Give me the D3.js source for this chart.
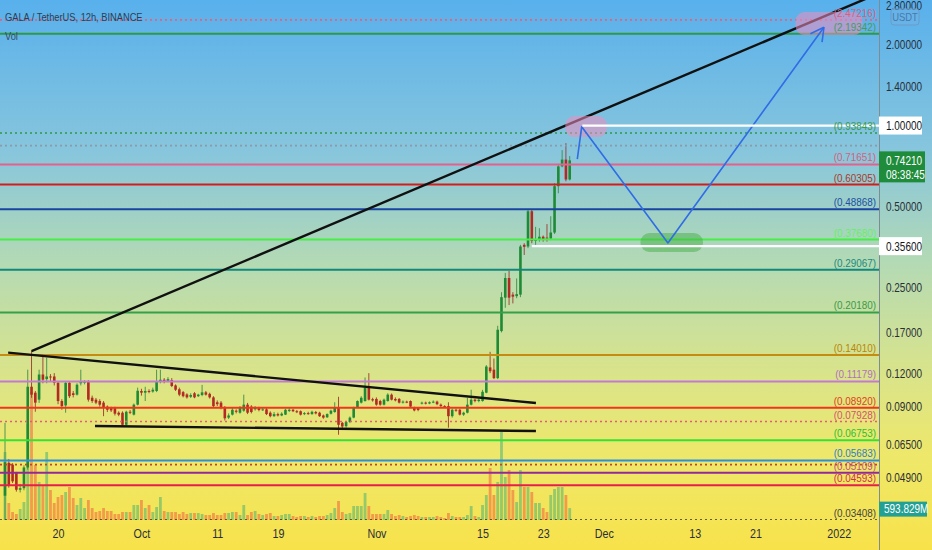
<!DOCTYPE html>
<html><head><meta charset="utf-8">
<script src="https://cdn.jsdelivr.net/npm/d3@7"></script>
<style>
html,body{margin:0;padding:0;background:#fff;}
svg{display:block;}
text{font-family:'Liberation Sans',Arial,sans-serif;}
</style></head><body>
<svg id="chart" width="932" height="550"></svg>
<script>
// ---------------- DATA ----------------
const title = "GALA / TetherUS, 12h, BINANCE";
const firstCandle = Date.UTC(2021, 8, 13);
const HALF_DAY = 12 * 3600 * 1000;

const opens = [0.0420,0.0557,0.0548,0.0510,0.0442,0.0448,0.0535,0.1068,0.1015,0.0956,
0.1186,0.1140,0.1166,0.1166,0.1105,0.0945,0.0910,0.1105,0.1010,0.0998,
0.1100,0.1105,0.1115,0.0972,0.0956,0.0945,0.0932,0.0901,0.0893,0.0890,
0.0855,0.0855,0.0771,0.0862,0.0841,0.0916,0.1030,0.1015,0.1030,0.1025,
0.1030,0.1115,0.1134,0.1120,0.1130,0.1080,0.1045,0.1020,0.1000,0.0980,
0.1010,0.0985,0.0995,0.1018,0.1005,0.0975,0.0935,0.0932,0.0893,0.0820,
0.0841,0.0870,0.0855,0.0870,0.0916,0.0901,0.0880,0.0890,0.0875,0.0880,
0.0855,0.0830,0.0845,0.0835,0.0841,0.0868,0.0877,0.0866,0.0866,0.0845,
0.0852,0.0845,0.0860,0.0855,0.0835,0.0822,0.0848,0.0860,0.0893,0.0784,
0.0762,0.0790,0.0820,0.0893,0.0932,0.0945,0.1059,0.0960,0.0962,0.0945,
0.0916,0.0945,0.0998,0.0962,0.0962,0.0932,0.0940,0.0945,0.0893,0.0890,
0.0925,0.0932,0.0925,0.0935,0.0940,0.0916,0.0905,0.0905,0.0830,0.0877,
0.0877,0.0841,0.0855,0.0916,0.0956,0.0945,0.0945,0.1015,0.1260,0.1236,
0.1150,0.1720,0.2290,0.2710,0.2350,0.2320,0.2350,0.3600,0.3550,0.4800,
0.3720,0.3760,0.3860,0.3830,0.3800,0.4000,0.5950,0.7050,0.7470,0.6300];
const highs = [0.0784,0.0575,0.0555,0.0515,0.0465,0.0545,0.1236,0.1450,0.1030,0.1236,
0.1380,0.1370,0.1190,0.1200,0.1120,0.0960,0.1120,0.1120,0.1030,0.1100,
0.1236,0.1130,0.1130,0.0990,0.0970,0.0960,0.0945,0.0910,0.0900,0.0900,
0.0865,0.0865,0.0870,0.0875,0.0925,0.1060,0.1050,0.1068,0.1045,0.1060,
0.1236,0.1236,0.1150,0.1160,0.1150,0.1090,0.1060,0.1030,0.1010,0.1010,
0.1020,0.1005,0.1085,0.1030,0.1015,0.0985,0.0950,0.0945,0.0905,0.0850,
0.0890,0.0880,0.0905,0.0998,0.0930,0.0912,0.0905,0.0900,0.0890,0.0890,
0.0865,0.0860,0.0855,0.0858,0.0885,0.0890,0.0885,0.0875,0.0872,0.0860,
0.0862,0.0870,0.0868,0.0862,0.0842,0.0850,0.0878,0.0935,0.0980,0.0790,
0.0795,0.0828,0.0900,0.0950,0.0985,0.1156,0.1200,0.0972,0.0975,0.0955,
0.0965,0.1010,0.1008,0.0975,0.0970,0.0950,0.0948,0.0950,0.0900,0.0898,
0.0940,0.0940,0.0942,0.0950,0.0948,0.0925,0.0912,0.0935,0.0885,0.0885,
0.0885,0.0862,0.0970,0.1041,0.0965,0.0965,0.1040,0.1285,0.1440,0.1360,
0.1800,0.2400,0.2830,0.2880,0.2400,0.2700,0.3600,0.3650,0.4900,0.4850,
0.4200,0.4150,0.3900,0.4300,0.4600,0.6100,0.7200,0.8100,0.8600,0.7700];
const lows = [0.0341,0.0450,0.0468,0.0435,0.0432,0.0440,0.0525,0.0972,0.0862,0.0930,
0.1100,0.1100,0.1120,0.1080,0.0920,0.0877,0.0855,0.0970,0.0975,0.0990,
0.1080,0.1090,0.0940,0.0930,0.0920,0.0900,0.0830,0.0860,0.0860,0.0835,
0.0830,0.0764,0.0760,0.0845,0.0835,0.0910,0.0990,0.0945,0.1010,0.1015,
0.1020,0.1100,0.1100,0.1110,0.1065,0.1030,0.0985,0.0975,0.0965,0.0970,
0.0968,0.0978,0.0985,0.0990,0.0965,0.0895,0.0905,0.0880,0.0800,0.0810,
0.0835,0.0850,0.0848,0.0862,0.0845,0.0850,0.0870,0.0865,0.0868,0.0838,
0.0822,0.0825,0.0828,0.0830,0.0838,0.0860,0.0860,0.0852,0.0835,0.0838,
0.0840,0.0840,0.0843,0.0825,0.0812,0.0818,0.0842,0.0855,0.0708,0.0750,
0.0752,0.0782,0.0815,0.0890,0.0925,0.0940,0.0950,0.0940,0.0908,0.0908,
0.0910,0.0940,0.0950,0.0942,0.0925,0.0925,0.0928,0.0895,0.0865,0.0866,
0.0918,0.0918,0.0920,0.0928,0.0912,0.0898,0.0895,0.0752,0.0820,0.0862,
0.0835,0.0832,0.0850,0.0910,0.0935,0.0935,0.0940,0.1010,0.1200,0.1140,
0.1140,0.1700,0.2100,0.2150,0.2180,0.2280,0.2300,0.3300,0.3500,0.3650,
0.3600,0.3700,0.3700,0.3700,0.3750,0.3950,0.5600,0.7000,0.6200,0.6250];
const closes = [0.0560,0.0458,0.0475,0.0442,0.0448,0.0535,0.1068,0.0998,0.0932,0.1186,
0.1134,0.1166,0.1160,0.1105,0.0945,0.0905,0.1105,0.0985,0.0995,0.1087,
0.1115,0.1115,0.0956,0.0945,0.0932,0.0916,0.0893,0.0877,0.0872,0.0848,
0.0841,0.0771,0.0862,0.0858,0.0916,0.1032,0.1015,0.1030,0.1025,0.1041,
0.1115,0.1134,0.1120,0.1140,0.1075,0.1041,0.0998,0.0985,0.0975,0.0995,
0.0975,0.0998,0.1018,0.0998,0.0975,0.0905,0.0920,0.0893,0.0815,0.0835,
0.0877,0.0862,0.0893,0.0916,0.0855,0.0860,0.0890,0.0875,0.0880,0.0845,
0.0830,0.0845,0.0835,0.0848,0.0877,0.0877,0.0866,0.0860,0.0841,0.0852,
0.0845,0.0862,0.0850,0.0830,0.0820,0.0845,0.0870,0.0893,0.0771,0.0760,
0.0790,0.0820,0.0893,0.0945,0.0972,0.1059,0.0956,0.0950,0.0916,0.0916,
0.0956,0.0998,0.0956,0.0950,0.0932,0.0940,0.0935,0.0901,0.0872,0.0875,
0.0932,0.0925,0.0935,0.0940,0.0920,0.0905,0.0900,0.0830,0.0877,0.0870,
0.0841,0.0855,0.0916,0.0956,0.0945,0.0956,0.1023,0.1270,0.1220,0.1150,
0.1740,0.2300,0.2710,0.2290,0.2310,0.2360,0.3550,0.3540,0.4800,0.3720,
0.3780,0.3860,0.3760,0.3800,0.4000,0.5950,0.7050,0.7470,0.6300,0.7421];
// volume, millions of GALA
const volumes = [3400,850,400,300,550,900,4800,6400,2750,1900,
1750,3400,1500,850,1150,1250,1400,1650,1100,750,
1100,600,1000,600,400,450,600,450,450,300,
300,400,400,400,750,750,1000,600,750,400,
650,1150,450,400,400,400,300,400,300,350,
350,350,300,250,250,350,250,250,350,350,
400,400,250,750,250,400,450,300,250,300,
350,200,200,250,300,300,200,150,200,200,
150,200,150,200,200,250,350,600,950,400,
300,350,700,700,700,1350,700,300,300,300,
300,500,300,200,250,200,150,200,250,200,
150,150,150,150,200,150,100,350,200,150,
150,150,250,700,200,150,750,1250,2600,1250,
1900,4400,2150,2500,1500,900,2500,1650,1650,1400,
850,850,600,400,1250,1550,1650,1650,1250,593.829];

// horizontal levels (Fibonacci-style drawings)
const levelValues = [2.47216,2.19342,0.93843,0.842,0.71651,0.60305,0.48868,0.37680,0.29067,0.20180,
  0.14010,0.11179,0.08920,0.07928,0.06753,0.05683,0.0548,0.05109,0.04593,0.03408];
const levelLabeled = [1,1,1,0,1,1,1,1,1,1, 1,1,1,1,1,1,0,1,1,1];

// right price scale
const priceDomain = [0.0340, 2.93];
const priceTicks = [2.8, 2.0, 1.4, 0.5, 0.25, 0.17, 0.12, 0.09, 0.065, 0.049];
const lastPrice = 0.7421;
const countdown = "08:38:45";
const markedPrices = [1.0, 0.356];

// time axis
const timeTickDates = [[2021,8,20],[2021,9,1],[2021,9,11],[2021,9,19],[2021,10,1],[2021,10,15],
  [2021,10,23],[2021,11,1],[2021,11,13],[2021,11,21],[2022,0,1]];
const timeTickLabels = ["20","Oct","11","19","Nov","15","23","Dec","13","21","2022"];

// drawings: [dateUTC, price]
const risingTrend = [[Date.UTC(2021,8,16,12),0.1450],[Date.UTC(2022,0,5,10),3.03]];
const fallingTrend = [[Date.UTC(2021,8,13,10),0.1430],[Date.UTC(2021,10,22,1),0.0929]];
const supportLine = [[Date.UTC(2021,8,24,21),0.0763],[Date.UTC(2021,10,22,1),0.0731]];
const projection = [[Date.UTC(2021,10,27,12),0.75],[Date.UTC(2021,10,28,2),0.99],
  [Date.UTC(2021,11,9,11),0.366],[Date.UTC(2021,11,30,1),2.32]];
const whiteLineStarts = [Date.UTC(2021,10,28,4), Date.UTC(2021,10,21,12)];
const zones = [
  {t0:Date.UTC(2021,10,25,22), t1:Date.UTC(2021,11,1,10), p0:1.085, p1:0.906, kind:"pink"},
  {t0:Date.UTC(2021,11,5,20), t1:Date.UTC(2021,11,14,2), p0:0.398, p1:0.3386, kind:"green"},
  {t0:Date.UTC(2021,11,26,7), t1:Date.UTC(2022,0,4,3), p0:2.643, p1:2.170, kind:"pink"}
];

// ---------------- STYLE ----------------
const levelColors = ['#e8607e','#2f9a45','#2e9b45','#8c9aa8','#e6608c','#d41c1c','#1a44a0','#46ee46','#11877d','#34a048',
  '#c68c12','#c479d4','#f0361e','#e65a7a','#34e234','#2b8fe0','#c2462a','#93289a','#e61e4c','#333333'];
const labelColors = ['#d8607a','#4a9a5a','#3a9a50','#888','#d86080','#a83a2a','#2050a0','#66ee66','#1a8a80','#3a9a4a',
  '#b8860b','#b070c0','#e0401e','#d85070','#2cc02c','#2a80c8','#888','#c05080','#d03050','#444'];
const levelDotted = [1,0,1,1,0,0,0,0,0,0, 0,0,0,1,0,0,1,0,0,1];
const NARROW = 0.86, AXIS_NARROW = 0.8;

const W = 932, H = 550, plotR = 879, plotB = 520;
const svg = d3.select("#chart");
const defs = svg.append("defs");
const grad = defs.append("linearGradient").attr("id","bg").attr("x1",0).attr("y1",0).attr("x2",0).attr("y2",1);
[[0,'#58b0ec'],[0.28,'#88c6dc'],[0.48,'#b4dab4'],[0.66,'#d6e38e'],[0.82,'#ede86c'],[1,'#f8e24a']]
  .forEach(([o,c]) => grad.append("stop").attr("offset",o).attr("stop-color",c));
defs.append("clipPath").attr("id","plot").append("rect").attr("x",0).attr("y",0).attr("width",plotR).attr("height",plotB);

svg.append("rect").attr("width",W).attr("height",H).attr("fill","url(#bg)");

const x = d3.scaleUtc().domain([new Date(Date.UTC(2021,8,13)), new Date(Date.UTC(2022,0,1))]).range([5, 838.8]);
const y = d3.scaleLog().domain(priceDomain).range([520.4, 0]);
const vy = d3.scaleLinear().domain([0, 6400]).range([plotB, plotB - 128]);

const candles = opens.map((o,i) => ({t:new Date(firstCandle + i*HALF_DAY), o, h:highs[i], l:lows[i], c:closes[i], v:volumes[i]}));

const plot = svg.append("g").attr("clip-path","url(#plot)");

// volume
plot.append("g").selectAll("rect").data(candles).join("rect")
  .attr("x", d => x(d.t) - 1.4).attr("width", 2.8)
  .attr("y", d => vy(d.v)).attr("height", d => plotB - vy(d.v))
  .attr("fill", d => d.c >= d.o ? "rgba(38,166,120,0.45)" : "rgba(239,83,60,0.5)");

// candles
const cg = plot.append("g");
cg.selectAll("line").data(candles).join("line")
  .attr("x1", d => x(d.t)).attr("x2", d => x(d.t))
  .attr("y1", d => y(d.h)).attr("y2", d => y(d.l))
  .attr("stroke", d => d.c >= d.o ? "#3c8c4a" : "#9a3a30").attr("stroke-width", 0.9);
cg.selectAll("rect").data(candles).join("rect")
  .attr("x", d => x(d.t) - 1.3).attr("width", 2.6)
  .attr("y", d => y(Math.max(d.o,d.c)))
  .attr("height", d => Math.max(1, Math.abs(y(d.o) - y(d.c))))
  .attr("fill", d => d.c >= d.o ? "#1f8a36" : "#b32a22");

// levels
const levels = levelValues.map((v,i) => ({v, lab:levelLabeled[i], col:levelColors[i], tcol:labelColors[i], dot:levelDotted[i]}));
plot.append("g").selectAll("line").data(levels).join("line")
  .attr("x1",0).attr("x2",plotR).attr("y1", d => y(d.v)).attr("y2", d => y(d.v))
  .attr("stroke", d => d.col).attr("stroke-width", d => d.dot ? 1.6 : 2)
  .attr("stroke-dasharray", d => d.dot ? "2,3" : null);

// trend lines
const lineGen = d3.line().x(d => x(new Date(d[0]))).y(d => y(d[1]));
[risingTrend, fallingTrend, supportLine].forEach(seg => {
  plot.append("path").attr("d", lineGen(seg)).attr("fill","none").attr("stroke","#111").attr("stroke-width",2.4);
});

// zones
plot.append("g").selectAll("rect").data(zones).join("rect")
  .attr("x", d => x(new Date(d.t0))).attr("width", d => x(new Date(d.t1)) - x(new Date(d.t0)))
  .attr("y", d => y(d.p0)).attr("height", d => y(d.p1) - y(d.p0))
  .attr("rx", 9).attr("ry", 9)
  .attr("fill", d => d.kind === "pink" ? "rgba(238,140,190,0.55)" : "rgba(70,175,70,0.5)");

// projection path + arrowhead
plot.append("path").attr("d", lineGen(projection)).attr("fill","none")
  .attr("stroke","#2f6ce6").attr("stroke-width",1.6).attr("stroke-linejoin","round");
{
  const a = projection[projection.length-2], b = projection[projection.length-1];
  const ax = x(new Date(a[0])), ay = y(a[1]), bx = x(new Date(b[0])), by = y(b[1]);
  const ang = Math.atan2(ay - by, ax - bx);
  [-0.5, 0.5].forEach(da => {
    plot.append("line").attr("x1", bx).attr("y1", by)
      .attr("x2", bx + 15*Math.cos(ang+da)).attr("y2", by + 15*Math.sin(ang+da))
      .attr("stroke","#2f6ce6").attr("stroke-width",1.6);
  });
}

// level labels
svg.append("g").selectAll("text").data(levels.filter(d => d.lab)).join("text")
  .attr("x", 876).attr("y", d => y(d.v) - 3).attr("text-anchor","end")
  .attr("font-size", 11.5).attr("fill", d => d.tcol)
  .text(d => "(" + d3.format(".5f")(d.v) + ")");

// white horizontal lines
markedPrices.forEach((p,i) => {
  plot.append("line").attr("x1", x(new Date(whiteLineStarts[i]))).attr("x2", plotR)
    .attr("y1", y(p)).attr("y2", y(p)).attr("stroke","#ffffff").attr("stroke-width",2.2);
});

// title
svg.append("text").attr("x",5).attr("y",21).attr("font-size",10.8).attr("fill","#2c3e55").text(title);
svg.append("text").attr("x",5).attr("y",40).attr("font-size",10.8).attr("fill","#34495e").text("Vol");

// separator
svg.append("line").attr("x1",plotR+0.5).attr("x2",plotR+0.5).attr("y1",0).attr("y2",H).attr("stroke","#7d8c93").attr("stroke-width",1);

// right axis
const ra = svg.append("g").attr("transform",`translate(${plotR},0)`)
  .call(d3.axisRight(y).tickValues(priceTicks).tickFormat(d3.format(".5f")).tickSize(0).tickPadding(7));
ra.select(".domain").remove();
ra.selectAll("text").attr("font-size",12.5).attr("fill","#2a2e39").attr("data-k", AXIS_NARROW)
  .style("font-family","'Liberation Sans',Arial,sans-serif");

// marked price boxes
markedPrices.forEach(p => {
  const g = svg.append("g");
  g.append("rect").attr("x",plotR).attr("y",y(p)-9).attr("width",43).attr("height",18).attr("fill","#fff");
  g.append("text").attr("x",plotR+7).attr("y",y(p)+4.5).attr("font-size",12.5).attr("data-k", AXIS_NARROW)
    .attr("fill","#131722").text(d3.format(".5f")(p));
});
{
  const g = svg.append("g"), yy = y(lastPrice);
  g.append("rect").attr("x",plotR).attr("y",yy-9).attr("width",46).attr("height",31).attr("fill","#1f8c3b");
  g.append("text").attr("x",plotR+7).attr("y",yy+5).attr("font-size",12.5).attr("data-k", AXIS_NARROW)
    .attr("fill","#fff").text(d3.format(".5f")(lastPrice));
  g.append("text").attr("x",plotR+7).attr("y",yy+19).attr("font-size",12.5).attr("data-k", AXIS_NARROW)
    .attr("fill","#fff").text(countdown);
}
{
  const v = volumes[volumes.length-1], yy = vy(v);
  const g = svg.append("g");
  g.append("rect").attr("x",plotR).attr("y",yy-6.5).attr("width",48).attr("height",15).attr("fill","#22a094");
  g.append("text").attr("x",plotR+5).attr("y",yy+5).attr("font-size",12.5).attr("data-k", AXIS_NARROW)
    .attr("fill","#fff").text(d3.format(".3f")(v) + "M");
}
// currency badge
svg.append("rect").attr("x",891).attr("y",9).attr("width",28).attr("height",16).attr("rx",3)
  .attr("fill","rgba(120,180,230,0.35)").attr("stroke","#6b9cc8");
svg.append("text").attr("x",905).attr("y",21).attr("text-anchor","middle").attr("font-size",11).attr("fill","#4a78a8").text("USDT");

// bottom time axis
const ba = svg.append("g").attr("transform",`translate(0,${plotB})`)
  .call(d3.axisBottom(x).tickValues(timeTickDates.map(d => new Date(Date.UTC(d[0],d[1],d[2]))))
    .tickFormat((d,i) => timeTickLabels[i]).tickSize(0).tickPadding(9));
ba.select(".domain").remove();
ba.selectAll("text").attr("font-size",12.5).attr("fill","#2a2e39")
  .style("font-family","'Liberation Sans',Arial,sans-serif");

// condensed lettering, as in the reference
svg.selectAll("text").each(function() {
  const t = d3.select(this);
  const tx = +t.attr("x") || 0, ty = +t.attr("y") || 0;
  const k = +t.attr("data-k") || NARROW;
  t.attr("x", 0).attr("y", 0).attr("transform", `translate(${tx},${ty}) scale(${k},1)`);
});
</script>
</body></html>
